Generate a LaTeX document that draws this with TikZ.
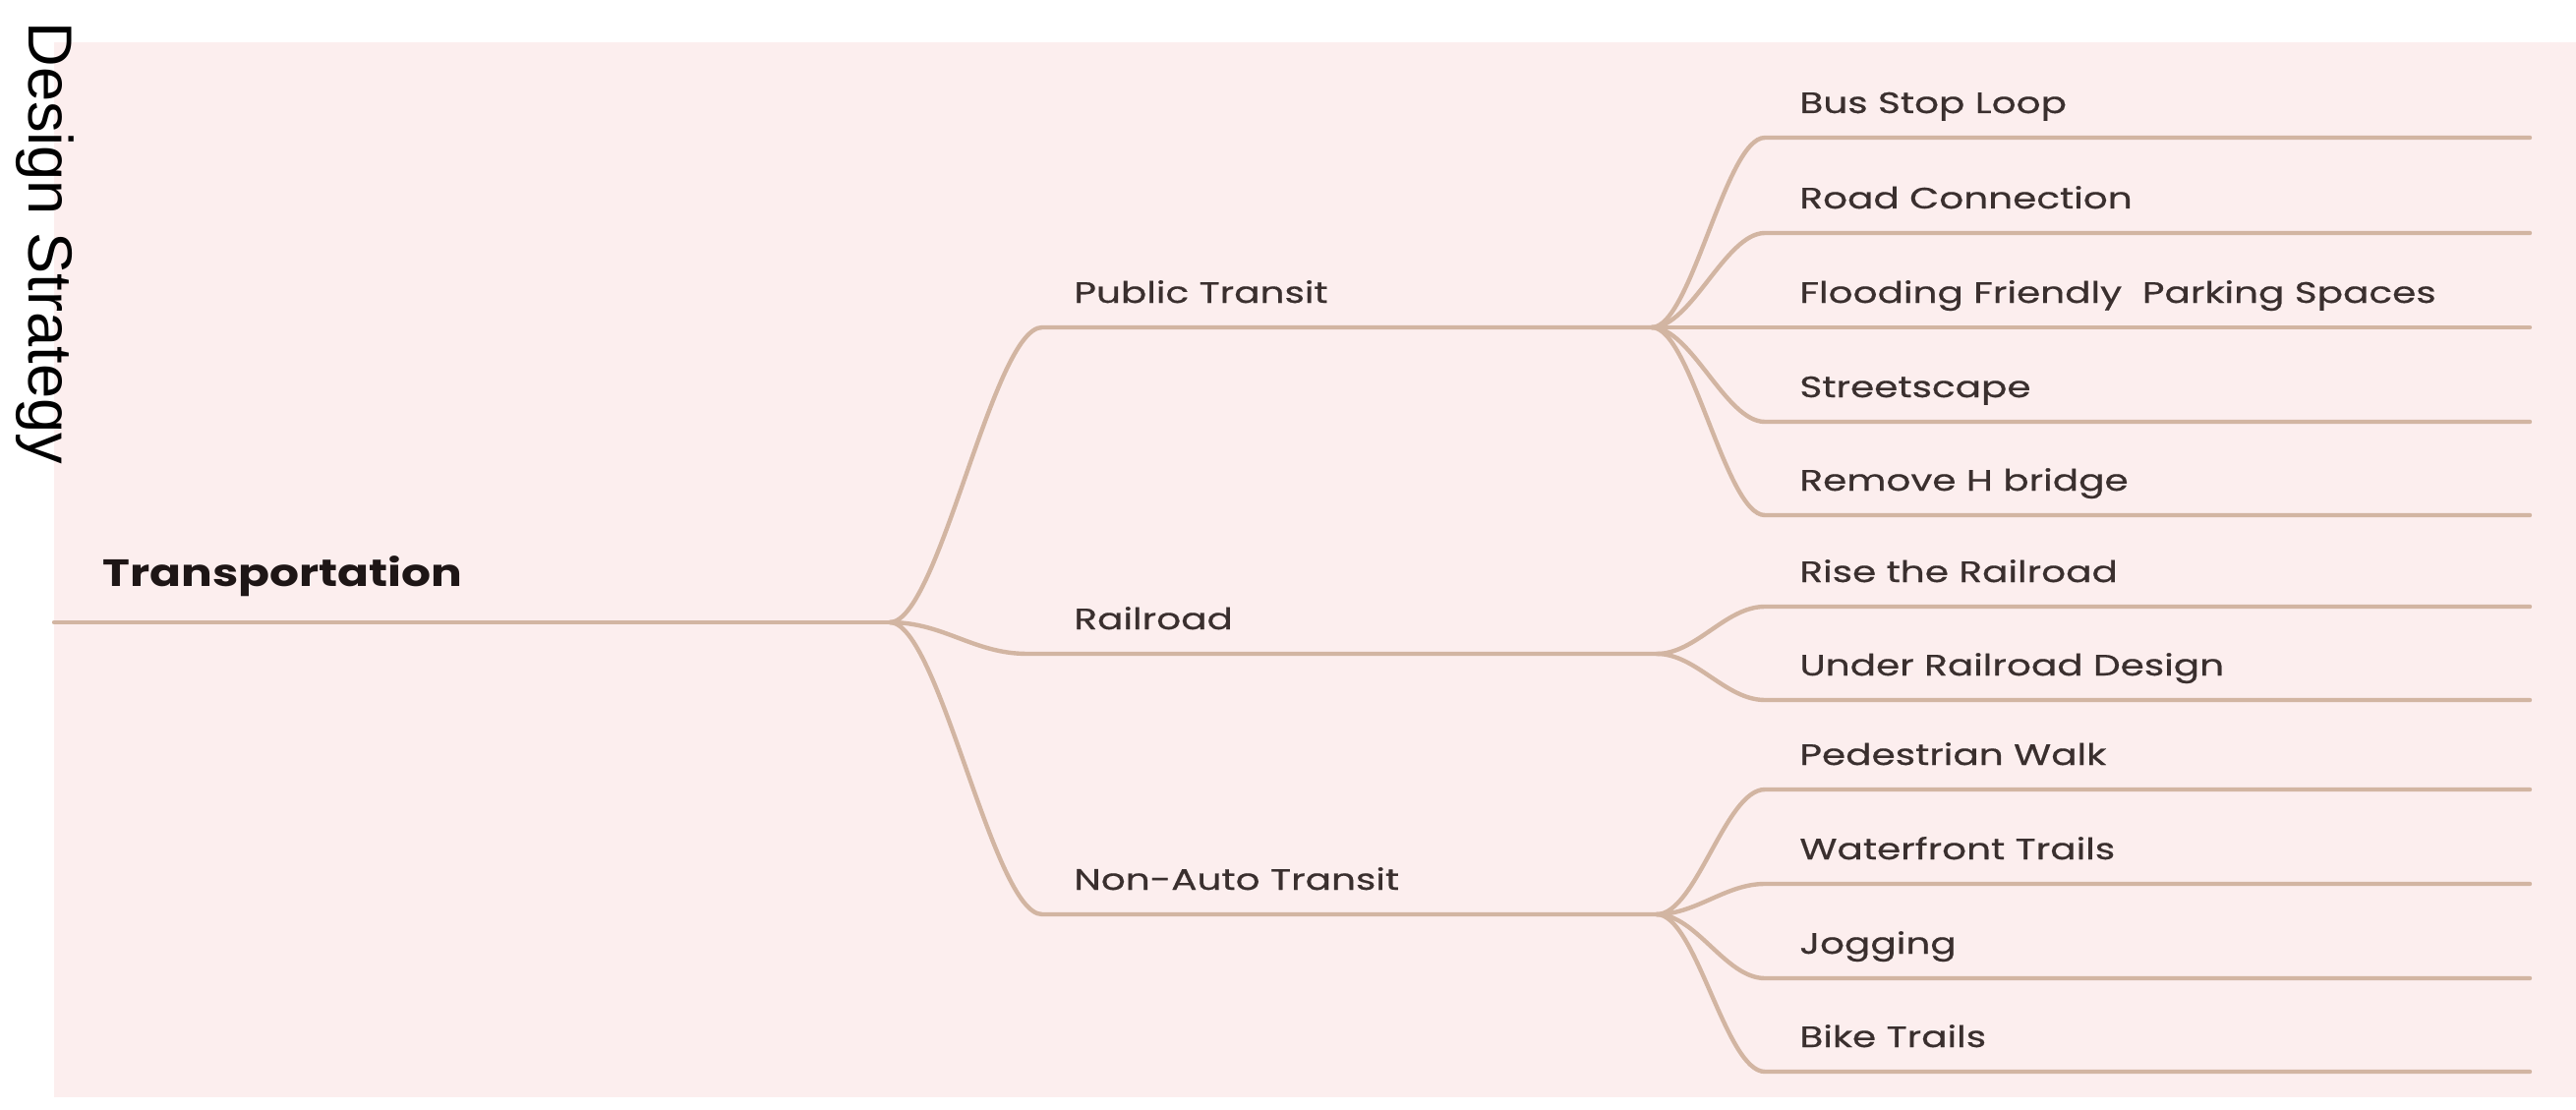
\documentclass[tikz,border=0pt]{standalone}
\usepackage{fontspec}
\setmainfont{Poppins}
\newfontfamily\leaffont[FakeStretch=1.30,FakeBold=0.6]{Poppins}
\newfontfamily\rootfont[FakeStretch=1.22]{Poppins}
\newfontfamily\dsfont{Liberation Sans}
\definecolor{bgpink}{HTML}{FCEEEE}
\definecolor{branch}{HTML}{D2B5A2}
\definecolor{labeltxt}{HTML}{3A2F2E}
\definecolor{roottxt}{HTML}{1E1616}
\tikzset{
  conn/.style={draw=branch, line width=2.2pt, line cap=round},
  leaflabel/.style={anchor=base west, inner sep=0pt, text=labeltxt, font=\leaffont\fontsize{15pt}{18pt}\selectfont},
  midlabel/.style={leaflabel},
  rootlabel/.style={anchor=base west, inner sep=0pt, text=roottxt, font=\rootfont\fontsize{19.3pt}{23pt}\selectfont\bfseries},
}
\begin{document}
\begin{tikzpicture}[x=0.5pt,y=-0.5pt]
\useasboundingbox (0,0) rectangle (2620,1129);
\fill[bgpink] (55,43) rectangle (2620,1116);
\node[anchor=base west, inner sep=0pt, rotate=-90, font=\dsfont\fontsize{31.6pt}{35pt}\selectfont] (ds) at (30,22) {Design Strategy};

% root
\coordinate (r0) at (55,633);
\coordinate (rj) at (905,633);
\node[rootlabel] (root) at (104,596) {Transportation};
\draw[conn] (r0) -- (rj);

% level 2
\coordinate (pt0) at (1060,333); \coordinate (ptj) at (1680,333);
\coordinate (rr0) at (1045,665); \coordinate (rrj) at (1685,665);
\coordinate (na0) at (1060,930); \coordinate (naj) at (1685,930);
\node[midlabel] (pt) at (1092,308) {Public Transit};
\node[midlabel] (rr) at (1092,640) {Railroad};
\node[midlabel] (na) at (1092,905) {Non-Auto Transit};
\draw[conn] (rj) .. controls +(50,0) and +(-50,0) .. (pt0) -- (ptj);
\draw[conn] (rj) .. controls +(55,0) and +(-55,0) .. (rr0) -- (rrj);
\draw[conn] (rj) .. controls +(50,0) and +(-50,0) .. (na0) -- (naj);

% leaves
\foreach \nm/\y/\j/\txt in {
  a/140/ptj/Bus Stop Loop,
  b/237/ptj/Road Connection,
  c/333/ptj/Flooding Friendly\ \ Parking Spaces,
  d/429/ptj/Streetscape,
  e/524/ptj/Remove H bridge,
  f/617/rrj/Rise the Railroad,
  g/712/rrj/Under Railroad Design,
  h/803/naj/Pedestrian Walk,
  i/899/naj/Waterfront Trails,
  j/995/naj/Jogging,
  k/1090/naj/Bike Trails}{
  \coordinate (s\nm) at (1795,\y);
  \coordinate (e\nm) at (2573,\y);
  \node[leaflabel] (t\nm) at (1830,\y-25) {\txt};
  \draw[conn] (\j) .. controls +(40,0) and +(-40,0) .. (s\nm) -- (e\nm);
}
\end{tikzpicture}
\end{document}
